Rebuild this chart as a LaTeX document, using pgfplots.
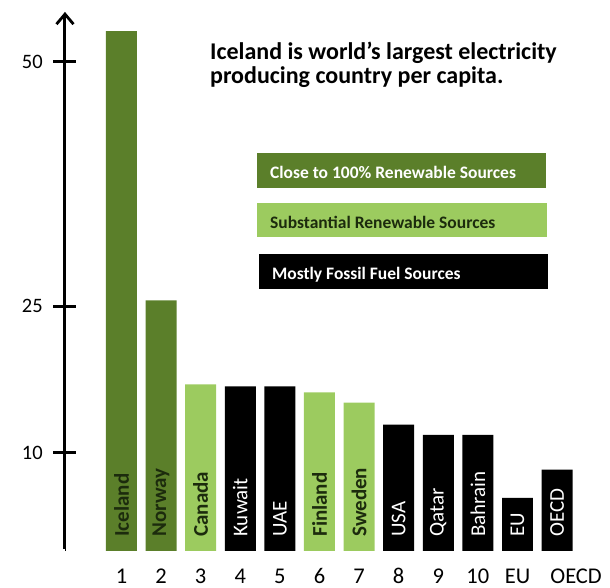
\documentclass[border=0pt]{standalone}
\usepackage{fontspec}
\setmainfont{Carlito}
\usepackage{pgfplots}
\pgfplotsset{compat=1.18}
\usetikzlibrary{arrows.meta}
\definecolor{dkgreen}{HTML}{5B7F2A}
\definecolor{ltgreen}{HTML}{9CCB5F}
\definecolor{lbltxt}{HTML}{1C2B0D}
\begin{document}
\begin{tikzpicture}
\begin{axis}[
  scale only axis, width=545.2pt, height=539pt,
  xmin=-0.427, xmax=13.336, ymin=0, ymax=55.06,
  axis y line=left, axis x line=bottom,
  x axis line style={draw=none},
  xtick={1,...,12}, xticklabels={1,2,3,4,5,6,7,8,9,10,EU,\hspace*{38pt}OECD},
  xtick style={draw=none},
  ytick={10,25,50}, yticklabels={10,25,50},
  ytick style={draw=none},
  xticklabel style={font=\fontsize{22.5}{22.5}\selectfont, anchor=base, inner sep=0pt, yshift=-30.5pt},
  yticklabel style={font=\fontsize{20.5}{20.5}\selectfont, anchor=east, inner sep=0pt, xshift=-20pt},
  /pgf/number format/assume math mode=true,
  clip=false,
]
\addplot[ybar, bar width=31pt, bar shift=0pt, fill=dkgreen, draw=none] coordinates {(1,53.1) (2,25.6)};
\addplot[ybar, bar width=31pt, bar shift=0pt, fill=ltgreen, draw=none] coordinates {(3,17.0) (6,16.2) (7,15.15)};
\addplot[ybar, bar width=31pt, bar shift=0pt, fill=black, draw=none] coordinates {(4,16.8) (5,16.8) (8,12.9) (9,11.85) (10,11.85) (11,5.4) (12,8.3)};
\addplot[draw=none, mark=none, nodes near coords, point meta=explicit symbolic,
  every node near coord/.style={rotate=90, anchor=west, inner xsep=14pt, inner ysep=0pt,
    font=\fontsize{21}{21}\selectfont\bfseries, text=lbltxt}]
  coordinates {(1,0)[Iceland] (2,0)[Norway] (3,0)[Canada] (6,0)[Finland] (7,0)[Sweden]};
\addplot[draw=none, mark=none, nodes near coords, point meta=explicit symbolic,
  every node near coord/.style={rotate=90, anchor=west, inner xsep=14pt, inner ysep=0pt,
    font=\fontsize{21}{21}\selectfont, text=white}]
  coordinates {(4,0)[Kuwait] (5,0)[UAE] (8,0)[USA] (9,0)[Qatar] (10,0)[Bahrain] (11,0)[EU] (12,0)[OECD]};
\coordinate (ybot) at (axis cs:-0.427,0.2);
\coordinate (ytop) at (axis cs:-0.427,55.06);
\coordinate (t10) at (axis cs:-0.427,10);
\coordinate (t25) at (axis cs:-0.427,25);
\coordinate (t50) at (axis cs:-0.427,50);
\end{axis}
\draw[line width=3pt, black, -{Straight Barb[length=10pt,width=17pt,line width=2.8pt]}] (ybot) -- (ytop);
\foreach \t in {t10,t25,t50} {
  \draw[line width=3pt, black] ([xshift=-11.5pt]\t) -- ([xshift=11.5pt]\t);
}
\node[anchor=base west, inner sep=0pt, font=\fontsize{24}{24}\selectfont\bfseries] at (145pt,491.7pt) {Iceland is world’s largest electricity};
\node[anchor=base west, inner sep=0pt, font=\fontsize{24}{24}\selectfont\bfseries] at (145pt,467.7pt) {producing country per capita.};
\fill[dkgreen] (192pt,398pt) rectangle (481pt,363pt);
\node[anchor=base west, inner sep=0pt, text=white, font=\fontsize{17.5}{18}\selectfont\bfseries] at (205pt,372.7pt) {Close to 100\% Renewable Sources};
\fill[ltgreen] (192pt,348pt) rectangle (482pt,314pt);
\node[anchor=base west, inner sep=0pt, text=lbltxt, font=\fontsize{17.5}{18}\selectfont\bfseries] at (205pt,322pt) {Substantial Renewable Sources};
\fill[black] (194pt,297pt) rectangle (483pt,262pt);
\node[anchor=base west, inner sep=0pt, text=white, font=\fontsize{17.5}{18}\selectfont\bfseries] at (207pt,271.7pt) {Mostly Fossil Fuel Sources};
\pgfresetboundingbox
\path[use as bounding box] (-65pt,-37pt) rectangle (545.2pt,551pt);
\end{tikzpicture}
\end{document}
